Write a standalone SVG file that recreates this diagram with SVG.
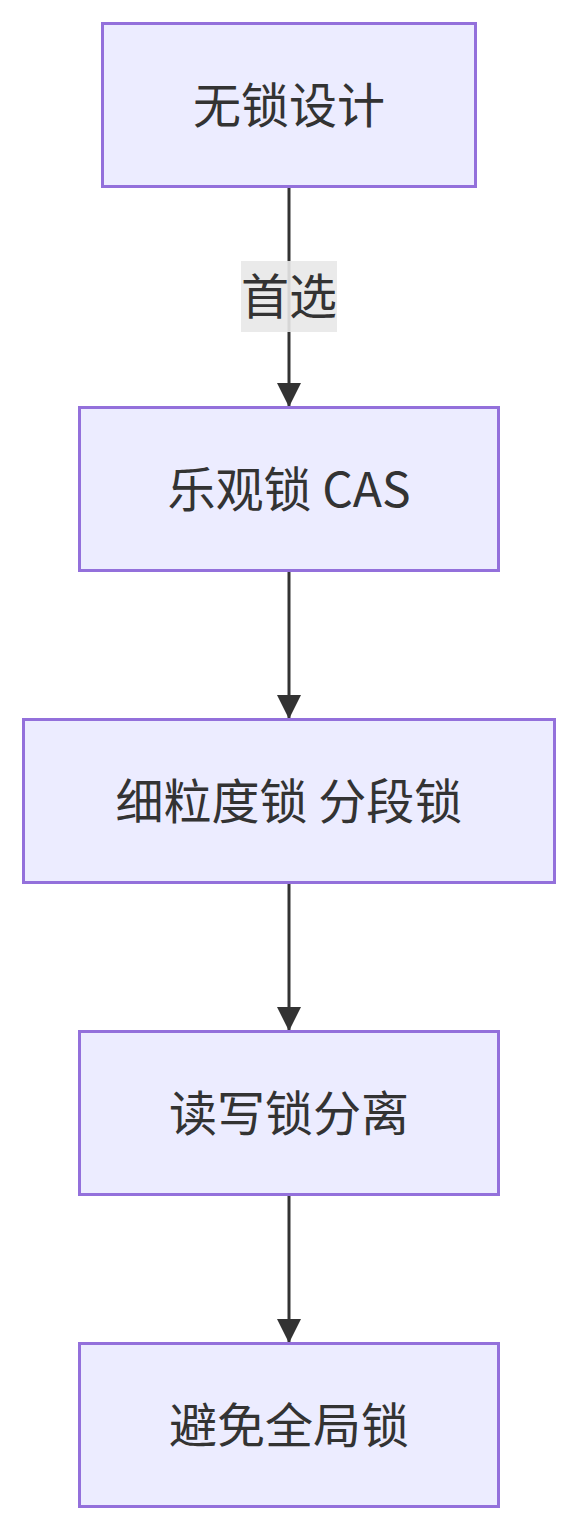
<svg xmlns="http://www.w3.org/2000/svg" width="578" height="1530" viewBox="0 0 578 1530">
<style>
.node rect{fill:#ECECFF;stroke:#9370DB;stroke-width:3}
.node text,.elabel text{font-family:"Noto Sans CJK SC","Noto Sans",sans-serif;font-size:48px;fill:#333333;text-anchor:middle}
.edge{stroke:#333333;stroke-width:3;fill:none}
.elabel rect{fill:#E8E8E8;opacity:0.9}
</style>
<defs>
<marker id="arrow" markerUnits="userSpaceOnUse" markerWidth="26" markerHeight="24" refX="24" refY="12" orient="auto">
<path d="M0,0 L24,12 L0,24 Z" fill="#333333"/>
</marker>
</defs>
<g id="connectors">
<path class="edge" d="M289,186.5 L289,407" marker-end="url(#arrow)"/>
<path class="edge" d="M289,570.5 L289,719" marker-end="url(#arrow)"/>
<path class="edge" d="M289,882.5 L289,1031" marker-end="url(#arrow)"/>
<path class="edge" d="M289,1194.5 L289,1343" marker-end="url(#arrow)"/>
<g class="elabel" id="label-first">
<rect x="241" y="261" width="96" height="71"/>
<text x="289" y="314">首选</text>
</g>
</g>
<g id="n1" class="node">
<rect x="102.5" y="23.5" width="373" height="163"/>
<text x="289" y="123">无锁设计</text>
</g>
<g id="n2" class="node">
<rect x="79.5" y="407.5" width="419" height="163"/>
<text x="289" y="507">乐观锁 CAS</text>
</g>
<g id="n3" class="node">
<rect x="23.5" y="719.5" width="531" height="163"/>
<text x="289" y="819">细粒度锁 分段锁</text>
</g>
<g id="n4" class="node">
<rect x="79.5" y="1031.5" width="419" height="163"/>
<text x="289" y="1131">读写锁分离</text>
</g>
<g id="n5" class="node">
<rect x="79.5" y="1343.5" width="419" height="163"/>
<text x="289" y="1443">避免全局锁</text>
</g>
</svg>
